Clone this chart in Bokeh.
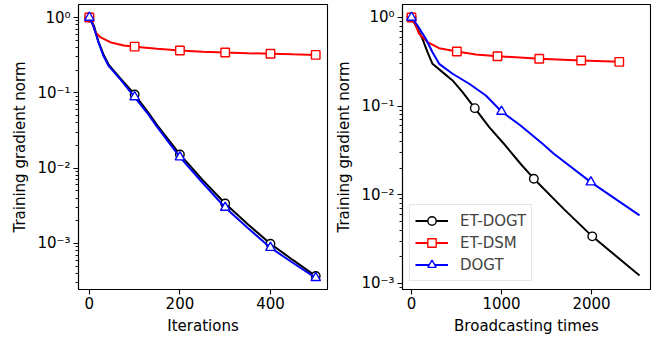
from bokeh.plotting import figure
from bokeh.models import Range1d, FixedTicker, CustomJSTickFormatter, Legend, LegendItem
from bokeh.layouts import row
from bokeh.embed import file_html
from bokeh.resources import INLINE

# ---------------- data: left panel (x = iterations) ----------------
it_et_dogt = [0, 10, 20, 32, 43, 68, 100, 131, 150, 200, 250, 300, 350, 400, 450, 500]
gn_et_dogt = [1.0, 0.78, 0.48, 0.315, 0.235, 0.157, 0.095, 0.054, 0.037, 0.0152, 0.0070, 0.0034, 0.0018, 0.00099, 0.00060, 0.00037]
it_et_dsm = [0, 7, 13, 24, 46, 76, 100, 150, 200, 250, 300, 350, 400, 450, 500]
gn_et_dsm = [1.0, 0.82, 0.64, 0.55, 0.47, 0.425, 0.41, 0.384, 0.365, 0.352, 0.343, 0.336, 0.33, 0.324, 0.319]
it_dogt = [0, 9, 20, 31, 42, 68, 100, 131, 150, 200, 250, 300, 350, 400, 450, 500]
gn_dogt = [1.0, 0.77, 0.47, 0.31, 0.23, 0.152, 0.088, 0.051, 0.035, 0.0140, 0.0064, 0.0030, 0.0016, 0.00088, 0.00055, 0.00035]

mk_it = [0, 100, 200, 300, 400, 500]
mk_it_et_dogt = [1.0, 0.095, 0.0152, 0.0034, 0.00099, 0.00037]
mk_it_et_dsm = [1.0, 0.41, 0.365, 0.343, 0.33, 0.319]
mk_it_dogt = [1.0, 0.088, 0.0140, 0.0030, 0.00088, 0.00035]

# ---------------- data: right panel (x = broadcasting times) ----------------
bc_et_dogt = [0, 67, 122, 178, 233, 344, 456, 567, 703, 863, 1026, 1211, 1359, 1693, 2008, 2533]
gb_et_dogt = [1.0, 0.745, 0.575, 0.406, 0.30, 0.242, 0.195, 0.144, 0.095, 0.058, 0.0377, 0.0224, 0.0152, 0.0069, 0.0034, 0.00123]
bc_et_dsm = [0, 48, 85, 178, 307, 504, 715, 955, 1419, 1885, 2308]
gb_et_dsm = [1.0, 0.81, 0.655, 0.527, 0.451, 0.414, 0.383, 0.366, 0.342, 0.327, 0.316]
bc_dogt = [0, 67, 159, 233, 307, 456, 641, 826, 1000, 1211, 1456, 1581, 1992, 2533]
gb_dogt = [1.0, 0.81, 0.575, 0.406, 0.30, 0.232, 0.179, 0.132, 0.087, 0.0606, 0.0377, 0.029, 0.0139, 0.00586]

mk_bc_et_dogt_x = [0, 703, 1359, 2008]
mk_bc_et_dogt_y = [1.0, 0.095, 0.0152, 0.0034]
mk_bc_et_dsm_x = [0, 504, 955, 1419, 1885, 2308]
mk_bc_et_dsm_y = [1.0, 0.414, 0.366, 0.342, 0.327, 0.316]
mk_bc_dogt_x = [0, 1000, 1992]
mk_bc_dogt_y = [1.0, 0.087, 0.0139]

series_names = ["ET-DOGT", "ET-DSM", "DOGT"]
series_colors = ["black", "#ff0000", "#0000ff"]
series_markers = ["circle", "square", "triangle"]
series_sizes = [8.5, 8.5, 9.5]

y_label = "Training gradient norm"
x_labels = ["Iterations", "Broadcasting times"]
x_ticks_left = [0, 200, 400]
x_ticks_right = [0, 1000, 2000]
y_decades = [1e-4, 1e-3, 1e-2, 1e-1, 1e0]
y_minor = [m * d for d in y_decades for m in range(2, 10)]

FONT = "DejaVu Sans"
FS = "15px"

fmt_code = r"""
const e = Math.round(Math.log10(tick));
const sup = {'-':'\u207B','0':'\u2070','1':'\u00B9','2':'\u00B2','3':'\u00B3','4':'\u2074','5':'\u2075','6':'\u2076','7':'\u2077','8':'\u2078','9':'\u2079'};
return '10' + String(e).split('').map(c => sup[c]).join('');
"""


def make_fig(width, bl, br, xr, yr, xticks, xlabel):
    p = figure(width=width, height=339, x_range=Range1d(*xr), y_range=Range1d(*yr),
               y_axis_type="log", output_backend="svg", toolbar_location=None,
               min_border_left=bl, min_border_right=br, min_border_top=4, min_border_bottom=50)
    p.grid.visible = False
    p.outline_line_color = "black"
    p.outline_line_width = 1.1
    p.outline_line_alpha = 1
    p.background_fill_color = "white"
    p.border_fill_color = "white"
    for ax in (p.xaxis[0], p.yaxis[0]):
        ax.axis_line_color = "black"
        ax.axis_line_width = 1.1
        ax.major_tick_out = 5
        ax.major_tick_in = 0
        ax.minor_tick_out = 3
        ax.minor_tick_in = 0
        ax.major_tick_line_width = 1.1
        ax.minor_tick_line_width = 0.9
        ax.major_tick_line_color = "black"
        ax.minor_tick_line_color = "black"
        ax.major_label_text_font = FONT
        ax.major_label_text_font_size = FS
        ax.major_label_text_color = "black"
        ax.axis_label_text_font = FONT
        ax.axis_label_text_font_size = FS
        ax.axis_label_text_font_style = "normal"
        ax.axis_label_text_color = "black"
    p.xaxis.ticker = FixedTicker(ticks=xticks)
    p.xaxis.minor_tick_line_color = None
    p.xaxis.major_label_standoff = 2
    p.xaxis.axis_label_standoff = 5
    p.yaxis.ticker = FixedTicker(ticks=y_decades, minor_ticks=y_minor)
    p.yaxis.formatter = CustomJSTickFormatter(code=fmt_code)
    p.yaxis.major_label_standoff = 3
    p.yaxis.axis_label_standoff = 5
    p.xaxis.axis_label = xlabel
    p.yaxis.axis_label = y_label
    return p


def draw(p, xs, ys, mxs, mys):
    items = []
    for i in range(3):
        l = p.line(xs[i], ys[i], line_color=series_colors[i], line_width=2)
        m = p.scatter(mxs[i], mys[i], marker=series_markers[i], size=series_sizes[i],
                      line_color=series_colors[i], fill_color="white", line_width=1.4)
        items.append(LegendItem(label=series_names[i], renderers=[l, m]))
    return items


left = make_fig(330, 78, 3, (-24, 526), (10 ** -3.611, 10 ** 0.1726), x_ticks_left, x_labels[0])
draw(left, [it_et_dogt, it_et_dsm, it_dogt], [gn_et_dogt, gn_et_dsm, gn_dogt],
     [mk_it, mk_it, mk_it], [mk_it_et_dogt, mk_it_et_dsm, mk_it_dogt])

right = make_fig(329, 72, 9, (-100, 2655), (10 ** -3.068, 10 ** 0.1466), x_ticks_right, x_labels[1])
items = draw(right, [bc_et_dogt, bc_et_dsm, bc_dogt], [gb_et_dogt, gb_et_dsm, gb_dogt],
             [mk_bc_et_dogt_x, mk_bc_et_dsm_x, mk_bc_dogt_x],
             [mk_bc_et_dogt_y, mk_bc_et_dsm_y, mk_bc_dogt_y])

legend = Legend(items=items, location=(7, 8))
legend.label_text_font = FONT
legend.label_text_font_size = FS
legend.glyph_width = 33
legend.glyph_height = 21
legend.label_height = 21
legend.label_standoff = 12
legend.padding = 5
legend.spacing = 1
legend.margin = 0
legend.border_line_color = "#cccccc"
legend.border_line_width = 1
legend.background_fill_alpha = 0.8
right.add_layout(legend)

layout = row(left, right)
open("out.html", "w").write(file_html(layout, INLINE))
